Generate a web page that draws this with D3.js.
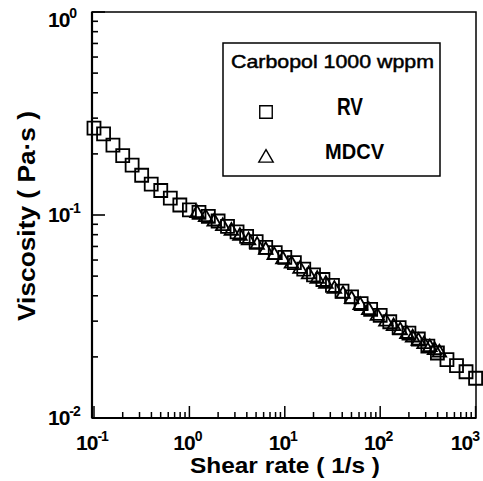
<!DOCTYPE html>
<html>
<head>
<meta charset="utf-8">
<script src="https://cdn.jsdelivr.net/npm/d3@7"></script>
<style>
html,body{margin:0;padding:0;background:#fff;}
svg{display:block;}
text{font-family:"Liberation Sans",Arial,sans-serif;fill:#000;}
</style>
</head>
<body>
<svg id="chart" width="483" height="481"></svg>
<script>
// ---- data ----
const rvShear = [0.1,0.126,0.158,0.2,0.251,0.316,0.398,0.501,0.631,0.794,
  1,1.26,1.58,2.0,2.51,3.16,3.98,5.01,6.31,7.94,
  10,12.6,15.8,20.0,25.1,31.6,39.8,50.1,63.1,79.4,
  100,126,158,200,251,316,398,501,631,794,1000];
const rvVisc = [0.268,0.251,0.221,0.196,0.176,0.157,0.142,0.132,0.121,0.112,
  0.106,0.103,0.0984,0.0934,0.0879,0.0826,0.0785,0.0739,0.0692,0.0653,
  0.0619,0.0583,0.0541,0.0507,0.0481,0.0450,0.0422,0.0395,0.0366,0.0343,
  0.0320,0.0298,0.0279,0.0262,0.0245,0.0226,0.0209,0.0194,0.0181,0.0169,0.0157];
const mdcvShear = [1.202,1.479,1.820,2.239,2.754,3.388,4.169,5.129,6.310,7.762,
  9.550,11.75,14.45,17.78,21.88,26.92,33.11,40.74,50.12,61.66,
  75.86,93.33,114.8,138.0,162.2,190.5,218.8,251.2,288.4,331.1,371.5,416.9];
const mdcvVisc = [0.102,0.0975,0.0928,0.0880,0.0835,0.0788,0.0750,0.0712,0.0672,0.0634,
  0.0605,0.0575,0.0542,0.0510,0.0484,0.0458,0.0432,0.0408,0.0385,0.0360,
  0.0340,0.0318,0.0298,0.0283,0.0270,0.0259,0.0249,0.0240,0.0231,0.0223,0.0216,0.0210];
const xMajor = [0.1,1,10,100,1000];
const xExp = ["-1","0","1","2","3"];
const yMajor = [1,0.1,0.01];
const yExp = ["0","-1","-2"];
const legendTitle = "Carbopol 1000 wppm";
const seriesNames = ["RV","MDCV"];
const xTitle = "Shear rate ( 1/s )";
const yTitle = "Viscosity ( Pa\u00B7s )";

// ---- layout ----
const L = 92, R = 476, T = 12, B = 418;
const svg = d3.select("#chart");
const x = d3.scaleLog().domain([0.0953, 1010]).range([L, R]);
const y = d3.scaleLog().domain([0.01, 1]).range([B, T]);

// frame
svg.append("rect").attr("x", L).attr("y", T).attr("width", R - L).attr("height", B - T)
  .attr("fill", "none").attr("stroke", "#000").attr("stroke-width", 1.5);
svg.append("line").attr("x1", L).attr("x2", L).attr("y1", T).attr("y2", B)
  .attr("stroke", "#000").attr("stroke-width", 2.2);
svg.append("line").attr("x1", L).attr("x2", R).attr("y1", B).attr("y2", B)
  .attr("stroke", "#000").attr("stroke-width", 2.2);

// ticks
const xTicks = x.ticks().filter(v => v >= 0.1 && v <= 1000);
xTicks.forEach(v => {
  const major = xMajor.some(m => Math.abs(m - v) / m < 1e-6);
  svg.append("line").attr("x1", x(v)).attr("x2", x(v))
    .attr("y1", B).attr("y2", B - (major ? 12 : 6))
    .attr("stroke", "#000").attr("stroke-width", 1.5);
});
const yTicks = y.ticks().filter(v => v >= 0.01 && v <= 1);
yTicks.forEach(v => {
  const major = yMajor.some(m => Math.abs(m - v) / m < 1e-6);
  svg.append("line").attr("y1", y(v)).attr("y2", y(v))
    .attr("x1", L).attr("x2", L + (major ? 13 : 6))
    .attr("stroke", "#000").attr("stroke-width", 1.6);
});

// tick labels
xMajor.forEach((v, i) => {
  const last = i === xMajor.length - 1;
  const t = svg.append("text")
    .attr("x", last ? 479 : x(v) - 2)
    .attr("y", 450)
    .attr("text-anchor", last ? "end" : "middle")
    .attr("font-weight", "bold").attr("font-size", 21)
    .attr("letter-spacing", -1);
  t.append("tspan").text("10");
  t.append("tspan").attr("font-size", 14).attr("dy", -9).text(xExp[i]);
});
yMajor.forEach((v, i) => {
  const t = svg.append("text")
    .attr("x", 48)
    .attr("y", Math.max(y(v) + 7, 27))
    .attr("font-weight", "bold").attr("font-size", 21)
    .attr("letter-spacing", -1);
  t.append("tspan").text("10");
  t.append("tspan").attr("font-size", 14).attr("dy", -9).text(yExp[i]);
});

// axis titles
svg.append("text").attr("x", 285).attr("y", 473).attr("text-anchor", "middle")
  .attr("font-weight", "bold").attr("font-size", 22)
  .attr("textLength", 190).attr("lengthAdjust", "spacingAndGlyphs")
  .text(xTitle);
svg.append("text").attr("transform", "translate(35,216) rotate(-90)")
  .attr("text-anchor", "middle")
  .attr("font-weight", "bold").attr("font-size", 23)
  .attr("textLength", 210).attr("lengthAdjust", "spacingAndGlyphs")
  .text(yTitle);

// data markers
const sq = d3.symbol().type(d3.symbolSquare).size(169);
const tri = d3.symbol().type(d3.symbolTriangle).size(80);
const rv = rvShear.map((s, i) => [s, rvVisc[i]]);
const md = mdcvShear.map((s, i) => [s, mdcvVisc[i]]);
svg.append("g").selectAll("path").data(rv).join("path")
  .attr("d", sq).attr("transform", d => `translate(${x(d[0])},${y(d[1])})`)
  .attr("fill", "none").attr("stroke", "#000").attr("stroke-width", 1.8);
svg.append("g").selectAll("path").data(md).join("path")
  .attr("d", tri).attr("transform", d => `translate(${x(d[0])},${y(d[1])})`)
  .attr("fill", "none").attr("stroke", "#000").attr("stroke-width", 1.8);

// legend
svg.append("rect").attr("x", 223).attr("y", 43).attr("width", 217).attr("height", 133)
  .attr("fill", "#fff").attr("stroke", "#000").attr("stroke-width", 1.5);
svg.append("text").attr("x", 231).attr("y", 68).attr("font-size", 19)
  .attr("stroke", "#000").attr("stroke-width", 0.5)
  .attr("textLength", 203).attr("lengthAdjust", "spacingAndGlyphs")
  .text(legendTitle);
svg.append("path").attr("d", d3.symbol().type(d3.symbolSquare).size(156))
  .attr("transform", "translate(266,112)")
  .attr("fill", "none").attr("stroke", "#000").attr("stroke-width", 1.4);
svg.append("path").attr("d", d3.symbol().type(d3.symbolTriangle).size(90))
  .attr("transform", "translate(266,158)")
  .attr("fill", "none").attr("stroke", "#000").attr("stroke-width", 1.4);
svg.append("text").attr("x", 337).attr("y", 115).attr("font-size", 23).attr("font-weight", "bold")
  .attr("textLength", 26).attr("lengthAdjust", "spacingAndGlyphs").text(seriesNames[0]);
svg.append("text").attr("x", 325).attr("y", 159).attr("font-size", 22).attr("font-weight", "bold")
  .attr("textLength", 59).attr("lengthAdjust", "spacingAndGlyphs").text(seriesNames[1]);
</script>
</body>
</html>
